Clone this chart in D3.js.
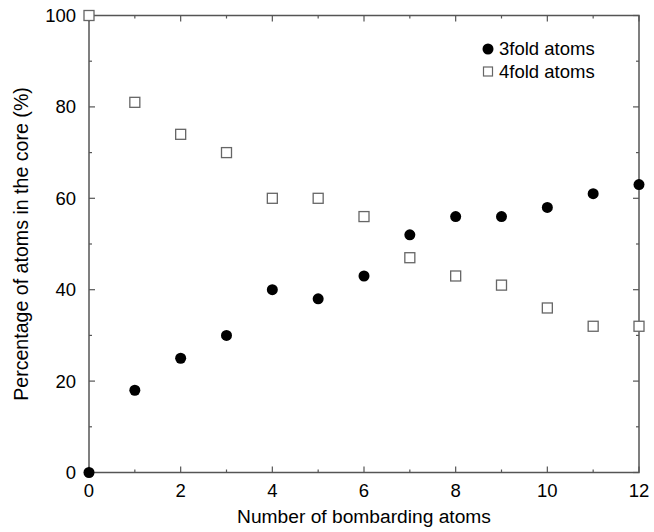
<!DOCTYPE html>
<html>
<head>
<meta charset="utf-8">
<script src="https://cdn.jsdelivr.net/npm/d3@7/dist/d3.min.js"></script>
<style>
  body { margin: 0; background: #fff; }
  svg { font-family: "Liberation Sans", Arial, sans-serif; }
</style>
</head>
<body>
<div id="chart"></div>
<script>
// data
const bombarding = [0, 1, 2, 3, 4, 5, 6, 7, 8, 9, 10, 11, 12];
const threefold = [0, 18, 25, 30, 40, 38, 43, 52, 56, 56, 58, 61, 63];
const fourfold = [100, 81, 74, 70, 60, 60, 56, 47, 43, 41, 36, 32, 32];
const xTicks = [0, 2, 4, 6, 8, 10, 12];
const yTicks = [0, 20, 40, 60, 80, 100];
const legendLabels = ["3fold atoms", "4fold atoms"];

const W = 654, H = 532;
const margin = { top: 15.5, right: 15, bottom: 59.5, left: 89 };
const width = W - margin.left - margin.right;
const height = H - margin.top - margin.bottom;

const svg = d3.select('#chart').append('svg')
  .attr('width', W)
  .attr('height', H);

const g = svg.append('g')
  .attr('transform', `translate(${margin.left}, ${margin.top})`);

const x = d3.scaleLinear().domain([0, 12]).range([0, width]);
const y = d3.scaleLinear().domain([0, 100]).range([height, 0]);

const axisColor = '#555';

// ticks on all four sides, pointing inward
const minorX = d3.range(1, 12, 2);
const minorY = d3.range(10, 100, 20);

function tickSet(vals, len, side) {
  vals.forEach(v => {
    let a;
    if (side === 'bottom') a = [x(v), height, x(v), height - len];
    if (side === 'top') a = [x(v), 0, x(v), len];
    if (side === 'left') a = [0, y(v), len, y(v)];
    if (side === 'right') a = [width, y(v), width - len, y(v)];
    g.append('line')
      .attr('x1', a[0]).attr('y1', a[1]).attr('x2', a[2]).attr('y2', a[3])
      .attr('stroke', axisColor)
      .attr('stroke-width', 1.2);
  });
}
tickSet(xTicks, 6, 'bottom');
tickSet(xTicks, 6, 'top');
tickSet(minorX, 3, 'bottom');
tickSet(minorX, 3, 'top');
tickSet(yTicks, 6, 'left');
tickSet(yTicks, 6, 'right');
tickSet(minorY, 3, 'left');
tickSet(minorY, 3, 'right');

// frame
g.append('rect')
  .attr('width', width)
  .attr('height', height)
  .attr('fill', 'none')
  .attr('stroke', axisColor)
  .attr('stroke-width', 1.5);

// tick labels
g.selectAll('.xlab').data(xTicks).enter().append('text')
  .attr('x', d => x(d))
  .attr('y', height + 24.5)
  .attr('text-anchor', 'middle')
  .style('font-size', '18.5px')
  .text(d => d);

g.selectAll('.ylab').data(yTicks).enter().append('text')
  .attr('x', -13)
  .attr('y', d => y(d))
  .attr('dy', '0.35em')
  .attr('text-anchor', 'end')
  .style('font-size', '18.5px')
  .text(d => d);

// axis titles
svg.append('text')
  .attr('x', 364)
  .attr('y', 523)
  .attr('text-anchor', 'middle')
  .style('font-size', '19.2px')
  .text('Number of bombarding atoms');

svg.append('text')
  .attr('transform', `translate(28, ${margin.top + height / 2}) rotate(-90)`)
  .attr('text-anchor', 'middle')
  .style('font-size', '19.6px')
  .text('Percentage of atoms in the core (%)');

// points
const pts3 = bombarding.map((b, i) => [b, threefold[i]]);
const pts4 = bombarding.map((b, i) => [b, fourfold[i]]);

g.selectAll('.sq').data(pts4).enter().append('rect')
  .attr('x', d => x(d[0]) - 5)
  .attr('y', d => y(d[1]) - 5)
  .attr('width', 10)
  .attr('height', 10)
  .attr('fill', '#fff')
  .attr('stroke', '#666')
  .attr('stroke-width', 1.3);

g.selectAll('.dot').data(pts3).enter().append('circle')
  .attr('cx', d => x(d[0]))
  .attr('cy', d => y(d[1]))
  .attr('r', 5.5)
  .attr('fill', '#000');

// legend
const leg = svg.append('g').attr('transform', 'translate(488, 49)');
leg.append('circle').attr('cx', 0).attr('cy', 0).attr('r', 5.5).attr('fill', '#000');
leg.append('rect').attr('x', -4.5).attr('y', 18).attr('width', 9).attr('height', 9)
  .attr('fill', '#fff').attr('stroke', '#666').attr('stroke-width', 1.2);
legendLabels.forEach((t, i) => {
  leg.append('text')
    .attr('x', 11)
    .attr('y', i * 23)
    .attr('dy', '0.35em')
    .style('font-size', '18.5px')
    .text(t);
});
</script>
</body>
</html>
